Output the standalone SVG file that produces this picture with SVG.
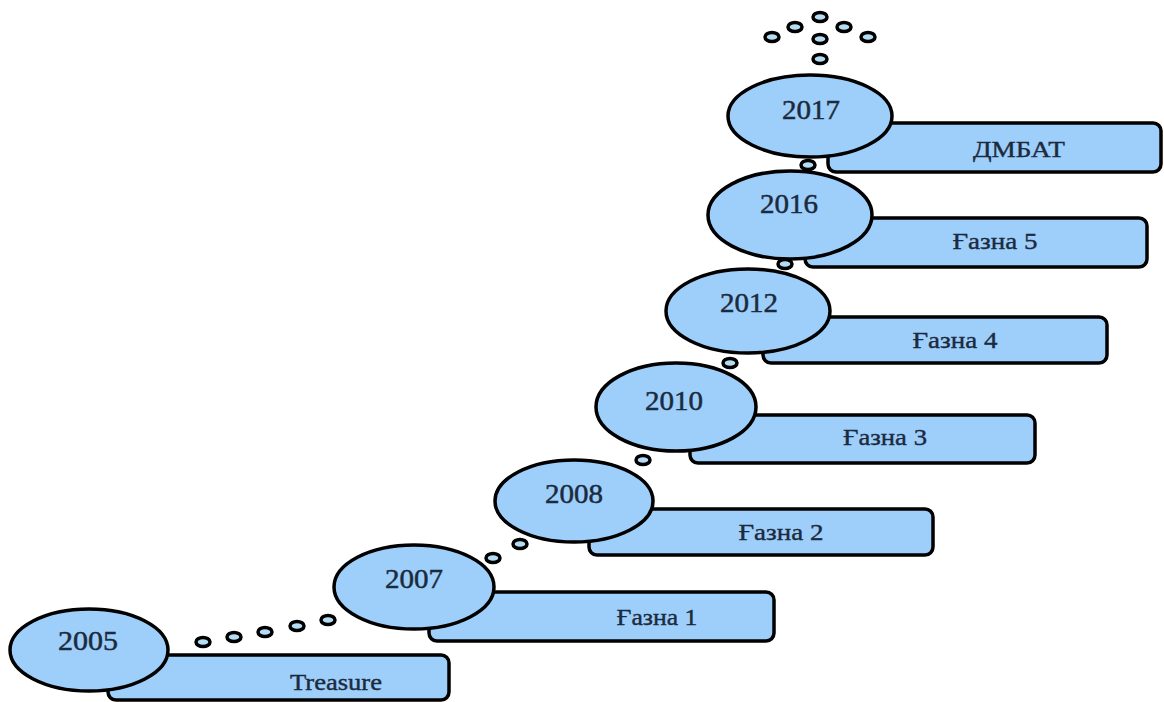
<svg xmlns="http://www.w3.org/2000/svg" width="1164" height="702" viewBox="0 0 1164 702">
<style>
.bub{fill:#9dcffa;stroke:#000;stroke-width:3.5}
.box{fill:#9dcffa;stroke:#000;stroke-width:3.5}
.dot{fill:#b5dcf5;stroke:#000;stroke-width:3.5}
.yr{font-family:"Liberation Serif","DejaVu Serif",serif;font-size:28px;fill:#1c2a3e;stroke:#1c2a3e;stroke-width:0.5;text-anchor:middle}
.lb{font-family:"Liberation Serif","DejaVu Serif",serif;font-size:24px;fill:#1c2a3e;stroke:#1c2a3e;stroke-width:0.4;text-anchor:middle}
</style>
<rect width="1164" height="702" fill="#fff"/>
<g id="connectors">
<ellipse class="dot" cx="203" cy="642" rx="7" ry="4.5"/>
<ellipse class="dot" cx="234" cy="637" rx="7" ry="4.5"/>
<ellipse class="dot" cx="265" cy="632" rx="7" ry="4.5"/>
<ellipse class="dot" cx="297" cy="626" rx="7" ry="4.5"/>
<ellipse class="dot" cx="328" cy="620" rx="7" ry="4.5"/>
<ellipse class="dot" cx="493" cy="558" rx="7" ry="4.5"/>
<ellipse class="dot" cx="520" cy="544" rx="7" ry="4.5"/>
<ellipse class="dot" cx="643" cy="460" rx="7" ry="4.5"/>
<ellipse class="dot" cx="730" cy="363" rx="7" ry="4.5"/>
<ellipse class="dot" cx="785" cy="264" rx="7" ry="4.5"/>
<ellipse class="dot" cx="808" cy="165" rx="7" ry="4.5"/>
<ellipse class="dot" cx="820" cy="59" rx="7" ry="4.5"/>
<ellipse class="dot" cx="820" cy="39" rx="7" ry="4.5"/>
<ellipse class="dot" cx="772" cy="37" rx="7" ry="4.5"/>
<ellipse class="dot" cx="795" cy="27" rx="7" ry="4.5"/>
<ellipse class="dot" cx="820" cy="17" rx="7" ry="4.5"/>
<ellipse class="dot" cx="844" cy="27" rx="7" ry="4.5"/>
<ellipse class="dot" cx="868" cy="37" rx="7" ry="4.5"/>
</g>
<g id="n2005">
<rect class="box" x="108" y="655" width="341" height="45" rx="8"/>
<ellipse class="bub" cx="89" cy="650" rx="79" ry="41"/>
<text class="yr" x="88" y="650" textLength="60" lengthAdjust="spacingAndGlyphs">2005</text>
<text class="lb" x="336" y="690" textLength="92" lengthAdjust="spacingAndGlyphs">Treasure</text>
</g>
<g id="n2007">
<rect class="box" x="429" y="592" width="345" height="49" rx="8"/>
<ellipse class="bub" cx="414" cy="587" rx="80" ry="42"/>
<text class="yr" x="414" y="588" textLength="58" lengthAdjust="spacingAndGlyphs">2007</text>
<text class="lb" x="657" y="625" textLength="81" lengthAdjust="spacingAndGlyphs">Ғазна 1</text>
</g>
<g id="n2008">
<rect class="box" x="589" y="509" width="344" height="46" rx="8"/>
<ellipse class="bub" cx="574" cy="501" rx="79" ry="41"/>
<text class="yr" x="574" y="503" textLength="58" lengthAdjust="spacingAndGlyphs">2008</text>
<text class="lb" x="781" y="540" textLength="85" lengthAdjust="spacingAndGlyphs">Ғазна 2</text>
</g>
<g id="n2010">
<rect class="box" x="690" y="415" width="345" height="48" rx="8"/>
<ellipse class="bub" cx="676" cy="407" rx="80" ry="44"/>
<text class="yr" x="674" y="410" textLength="58" lengthAdjust="spacingAndGlyphs">2010</text>
<text class="lb" x="885" y="445" textLength="84" lengthAdjust="spacingAndGlyphs">Ғазна 3</text>
</g>
<g id="n2012">
<rect class="box" x="763" y="317" width="344" height="46" rx="8"/>
<ellipse class="bub" cx="748" cy="311" rx="82" ry="42"/>
<text class="yr" x="749" y="312" textLength="58" lengthAdjust="spacingAndGlyphs">2012</text>
<text class="lb" x="955" y="348" textLength="85" lengthAdjust="spacingAndGlyphs">Ғазна 4</text>
</g>
<g id="n2016">
<rect class="box" x="805" y="218" width="342" height="49" rx="8"/>
<ellipse class="bub" cx="790" cy="215" rx="82" ry="44"/>
<text class="yr" x="789" y="213" textLength="58" lengthAdjust="spacingAndGlyphs">2016</text>
<text class="lb" x="995" y="249" textLength="85" lengthAdjust="spacingAndGlyphs">Ғазна 5</text>
</g>
<g id="n2017">
<rect class="box" x="828" y="123" width="333" height="49" rx="8"/>
<ellipse class="bub" cx="810" cy="116" rx="82" ry="41"/>
<text class="yr" x="811" y="119" textLength="58" lengthAdjust="spacingAndGlyphs">2017</text>
<text class="lb" x="1019" y="157" textLength="92" lengthAdjust="spacingAndGlyphs">ДМБАТ</text>
</g>
</svg>
